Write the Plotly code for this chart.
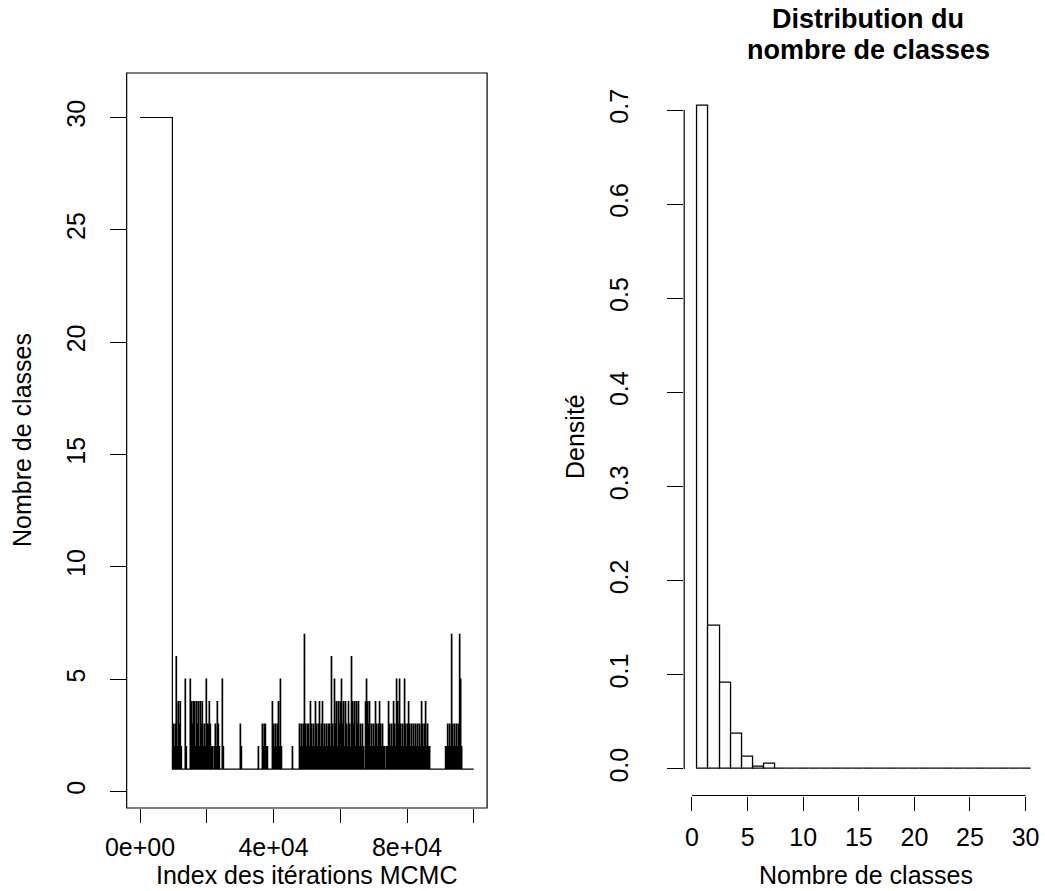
import plotly.graph_objects as go

# ---------------- data ----------------
# MCMC trace of the number of classes
burnin_value = 30
burnin_end = 9700
total_iter = 100000
spike_iter = [
    9900, 10200, 10500, 10800, 11100, 11400, 11700, 12000, 12300,
    13500, 13800,
    15000, 15300, 15600, 15900, 16200, 16500, 16800, 17100, 17400, 17700, 18000, 18300, 18600, 18900,
    19200, 19500, 19800, 20100, 20400, 20700, 21000, 21300, 21600, 22200, 22500, 22800, 23100, 23400, 23700,
    24600, 24900,
    30000, 30300,
    35400,
    36600, 36900, 37200, 37500, 37800, 38100,
    39600, 39900, 40200, 40500, 40800, 41100, 41400, 41700, 42000, 42300,
    45600,
    47700, 48000, 48300, 48600, 48900, 49200, 49500, 49800, 50100, 50400, 50700, 51000, 51300, 51600,
    51900, 52200, 52500, 52800, 53100, 53400, 53700, 54000, 54300, 54600, 54900, 55200, 55500, 55800,
    56100, 56400, 56700, 57000, 57300, 57600, 57900, 58200, 58500, 58800, 59100, 59400, 59700, 60000,
    60300, 60600, 60900, 61200, 61500, 61800, 62100, 62400, 62700, 63000, 63300, 63600, 63900, 64200,
    64500, 64800, 65100, 65400, 65700, 66000, 66300, 66600, 66900,
    67500, 67800, 68100, 68400, 68700, 69000, 69300, 69600, 69900, 70200, 70500, 70800, 71100, 71400,
    71700, 72000, 72300, 72600, 72900, 73200,
    73800, 74100, 74400, 74700, 75000, 75300, 75600, 75900, 76200, 76500, 76800, 77100, 77400, 77700,
    78000, 78300, 78600, 78900, 79200, 79500, 79800, 80100, 80400, 80700, 81000, 81300, 81600, 81900,
    82200, 82500, 82800, 83100, 83400, 83700, 84000, 84300, 84600, 84900, 85200, 85500, 85800, 86100,
    86400, 86700,
    91500, 91800, 92100, 92400, 92700, 93000, 93300, 93600, 93900, 94200, 94500, 94800, 95100, 95400,
    95700, 96000, 96300,
]
spike_val = [
    3, 2, 3, 6, 2, 4, 3, 4, 2,
    5, 2,
    5, 4, 3, 4, 4, 2, 4, 3, 4, 2, 4, 3, 4, 2,
    3, 2, 5, 3, 3, 4, 3, 2, 2, 2, 3, 2, 4, 3, 2,
    5, 2,
    3, 2,
    2,
    3, 2, 3, 3, 2, 2,
    4, 3, 2, 3, 2, 3, 4, 2, 5, 2,
    2,
    3, 2, 3, 2, 3, 7, 3, 2, 3, 3, 2, 4, 3, 2,
    3, 2, 4, 3, 2, 3, 4, 2, 3, 4, 2, 3, 2, 3,
    2, 3, 3, 2, 6, 3, 2, 5, 3, 4, 2, 4, 3, 4,
    5, 3, 4, 2, 4, 3, 2, 4, 3, 2, 6, 4, 3, 4,
    2, 4, 3, 4, 2, 3, 2, 3, 2,
    4, 5, 4, 3, 4, 2, 3, 2, 3, 2, 4, 3, 2, 3,
    4, 3, 2, 3, 2, 2,
    2, 2, 4, 3, 2, 3, 2, 4, 3, 2, 5, 4, 3, 5,
    3, 2, 3, 2, 5, 3, 2, 3, 4, 3, 2, 3, 2, 3,
    2, 3, 2, 3, 2, 3, 2, 4, 3, 2, 3, 4, 2, 3,
    2, 2,
    2, 2, 3, 2, 3, 2, 7, 3, 2, 3, 2, 3, 2, 3,
    7, 5, 2,
]
base_value = 1

# Histogram of the number of classes (bins of width 1 centred on 1..30)
hist_centers = list(range(1, 31))
hist_density = [0.705, 0.152, 0.092, 0.037, 0.013, 0.0025, 0.005] + [0.0] * 23

# tick labels
left_xticks = [0, 20000, 40000, 60000, 80000, 100000]
left_xticktext = ["0e+00", "", "4e+04", "", "8e+04", ""]
left_yticks = [0, 5, 10, 15, 20, 25, 30]
right_xticks = [0, 5, 10, 15, 20, 25, 30]
right_yticks = [0.0, 0.1, 0.2, 0.3, 0.4, 0.5, 0.6, 0.7]

# ---------------- build trace path ----------------
tx = [1, burnin_end, burnin_end]
ty = [burnin_value, burnin_value, base_value]
for it, v in zip(spike_iter, spike_val):
    tx += [it, it, it + 150, it + 150]
    ty += [base_value, v, v, base_value]
tx.append(total_iter)
ty.append(base_value)

W, H = 1045, 891
FONT = "Liberation Sans"
FS_TICK = 25
FS_LAB = 25
FS_MAIN = 27

def px(xp):
    return xp / W

def py(yp):
    return 1 - yp / H

fig = go.Figure()
fig.add_trace(go.Scatter(x=tx, y=ty, mode="lines", line=dict(color="black", width=1.2),
                         xaxis="x", yaxis="y", showlegend=False, hoverinfo="skip"))
fig.add_trace(go.Bar(x=hist_centers, y=hist_density, width=1,
                     marker=dict(color="white", line=dict(color="black", width=1.3)),
                     xaxis="x2", yaxis="y2", showlegend=False, hoverinfo="skip"))

tickfont = dict(family=FONT, size=FS_TICK, color="black")
common = dict(showgrid=False, zeroline=False, showline=False, ticks="outside",
              tickwidth=1.2, tickcolor="black", tickfont=tickfont, automargin=False, fixedrange=True)

fig.update_layout(
    template="none",
    width=W, height=H, margin=dict(l=0, r=0, t=0, b=0, pad=0),
    paper_bgcolor="white", plot_bgcolor="white", bargap=0,
    font=dict(family=FONT, size=FS_TICK, color="black"),
    xaxis=dict(domain=[px(126.65), px(487.1)], range=[-4000, 104000], tickmode="array",
               tickvals=left_xticks, ticktext=left_xticktext, anchor="y", ticklen=14,
               ticklabelstandoff=3, **common),
    yaxis=dict(domain=[py(808), py(73)], range=[-0.734, 31.98], tickmode="array",
               tickvals=left_yticks, tickangle=-90, anchor="x", ticklen=16,
               ticklabelstandoff=15, **common),
    xaxis2=dict(domain=[px(684.2), px(1044.5)], range=[-0.7, 31.7], tickmode="array",
                tickvals=right_xticks, anchor="y2", ticklen=14, ticklabelstandoff=5, **common),
    yaxis2=dict(domain=[py(795.5), py(78.8)], range=[-0.0282, 0.7332], tickmode="array",
                tickvals=right_yticks, tickformat=".1f", tickangle=-90, anchor="x2", ticklen=16,
                ticklabelstandoff=29, **common),
)

# left box
fig.add_shape(type="rect", xref="x domain", yref="y domain", x0=0, x1=1, y0=0, y1=1,
              line=dict(color="black", width=1.2))
# right axis lines (R style, spanning the ticks only)
fig.add_shape(type="line", xref="x2", yref="y2 domain", x0=right_xticks[0], x1=right_xticks[-1],
              y0=0, y1=0, line=dict(color="black", width=1.2))
fig.add_shape(type="line", xref="x2 domain", yref="y2", x0=0, x1=0, y0=right_yticks[0],
              y1=right_yticks[-1], line=dict(color="black", width=1.2))

# titles
ann = [
    dict(text="Index des itérations MCMC", x=px(306.8), y=0, yanchor="bottom", size=FS_LAB),
    dict(text="Nombre de classes", x=px(22), y=py(440), textangle=-90, size=FS_LAB),
    dict(text="Nombre de classes", x=px(866), y=0, yanchor="bottom", size=FS_LAB),
    dict(text="Densité", x=px(575), y=py(437), textangle=-90, size=FS_LAB),
    dict(text="<b>Distribution du</b>", x=px(868), y=py(19), size=FS_MAIN),
    dict(text="<b>nombre de classes</b>", x=px(868), y=py(50), size=FS_MAIN),
]
for a in ann:
    size = a.pop("size")
    a.setdefault("yanchor", "middle")
    fig.add_annotation(xref="paper", yref="paper", showarrow=False, xanchor="center",
                       font=dict(family=FONT, size=size, color="black"), **a)

fig.write_html("out.html", config={"displayModeBar": False},
               post_script="document.body.style.margin='0';document.body.style.overflow='hidden';")
